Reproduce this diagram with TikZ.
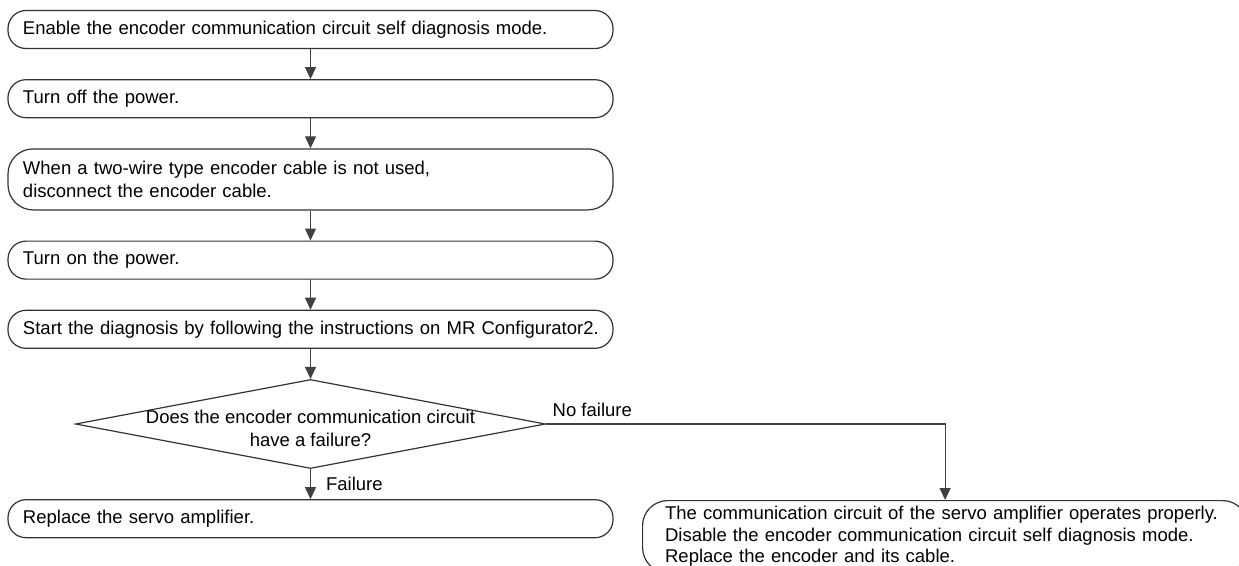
\documentclass[tikz,border=0pt]{standalone}
\usepackage{fontspec}
\setmainfont{Liberation Sans}
\usetikzlibrary{arrows.meta, positioning, shapes.geometric}
\tikzset{
  proc/.style={rectangle, draw=black!80, line width=1.2pt, rounded corners=18pt, minimum width=605pt, minimum height=38pt, text width=575pt, align=left, inner xsep=15pt, inner ysep=0pt, font=\fontsize{18.5}{22.5}\selectfont},
  decision/.style={diamond, draw=black!80, line width=1.2pt, minimum width=470pt, minimum height=89pt, inner sep=0pt},
  tag/.style={font=\fontsize{18.5}{22.5}\selectfont},
  flow/.style={-{Triangle[length=12pt, width=11pt]}, line width=1.2pt, draw=black!75},
}

\begin{document}
\begin{tikzpicture}[x=1pt, y=-1pt, node distance=30pt]
  \useasboundingbox (0,0) rectangle (1239,565);

  % Main steps
  \node[proc] (enable) at (310.5,29.5) {Enable the encoder communication circuit self diagnosis mode.};
  \node[proc, below=of enable] (poweroff) {Turn off the power.};
  \node[proc, below=of poweroff, minimum height=61pt, rounded corners=25pt] (unplug) {When a two-wire type encoder cable is not used,\\disconnect the encoder cable.};
  \node[proc, below=of unplug] (poweron) {Turn on the power.};
  \node[proc, below=of poweron] (diag) {\mbox{Start the diagnosis by following the instructions on MR Configurator2.}};

  % Decision and the two results
  \node[decision, below=of diag] (check) {};
  \node[tag, align=center, yshift=-4.5pt] (checktext) at (check.center) {Does the encoder communication circuit\\have a failure?};
  \node[proc, below=of check] (replace) {Replace the servo amplifier.};
  \coordinate[right=399pt of check.east] (turn);
  \node[proc, below=76pt of turn, minimum height=72pt, text width=560pt, inner xsep=22pt, rounded corners=25pt, font=\fontsize{18.5}{21.5}\selectfont] (okcase) {The communication circuit of the servo amplifier operates properly.\\Disable the encoder communication circuit self diagnosis mode.\\Replace the encoder and its cable.};

  % Arcs
  \draw[flow] (enable) -- (poweroff);
  \draw[flow] (poweroff) -- (unplug);
  \draw[flow] (unplug) -- (poweron);
  \draw[flow] (poweron) -- (diag);
  \draw[flow] (diag) -- (check);
  \draw[flow] (check.south) -- node[tag, midway, right, inner xsep=15pt] (failtag) {Failure} (replace);
  \draw[flow] (check.east) -- node[tag, pos=0, anchor=south west, inner xsep=6pt, inner ysep=7pt] (oktag) {No failure} (turn) -- (okcase);
\end{tikzpicture}
\end{document}
